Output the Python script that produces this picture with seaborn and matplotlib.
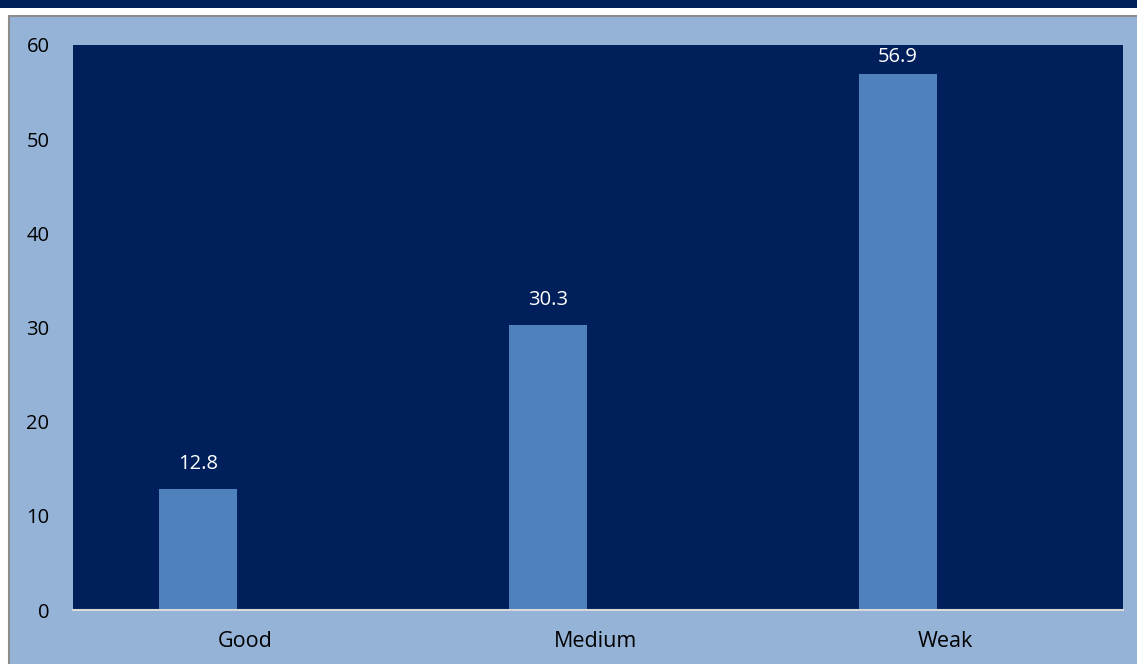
import matplotlib
matplotlib.use("Agg")
import matplotlib.pyplot as plt
import seaborn as sns
import pandas as pd
from matplotlib.patches import Rectangle

categories = ["Good", "Medium", "Weak"]
values = [12.8, 30.3, 56.9]
y_ticks = [0, 10, 20, 30, 40, 50, 60]

panel_bg = "#95B3D7"
plot_bg = "#001F5B"
bar_color = "#4F81BD"

sns.set_theme(style="white")
plt.rcParams["font.family"] = ["Open Sans", "DejaVu Sans"]

W, H = 1137, 664
fig = plt.figure(figsize=(W / 100, H / 100), dpi=100)
fig.patch.set_facecolor("white")

# header band and framed panel
fig.add_artist(Rectangle((0, 1 - 8 / H), 1, 8 / H, transform=fig.transFigure,
                         facecolor=plot_bg, edgecolor="none", zorder=0))
fig.add_artist(Rectangle((9 / W, 0), 1 - 9 / W, 1 - 16 / H, transform=fig.transFigure,
                         facecolor=panel_bg, edgecolor="none", zorder=0))
fig.add_artist(plt.Line2D([8.5 / W, 8.5 / W], [0, 1 - 15.5 / H], transform=fig.transFigure,
                          color="#8C8C8C", lw=1.5, zorder=1))
fig.add_artist(plt.Line2D([8.5 / W, 1], [1 - 15.5 / H, 1 - 15.5 / H], transform=fig.transFigure,
                          color="#8C8C8C", lw=1.5, zorder=1))

left, right, top, bottom = 73, 1123, 45, 610
ax = fig.add_axes([left / W, 1 - bottom / H, (right - left) / W, (bottom - top) / H])
ax.set_facecolor(plot_bg)

df = pd.DataFrame({"category": categories, "value": values})
sns.barplot(data=df, x="category", y="value", color=bar_color, saturation=1,
            width=0.223, ax=ax, edgecolor="none")

ymax = 60
ax.set_ylim(0, ymax)
# bars sit left of each category slot; labels stay at the slot centre
ax.set_xlim(-0.357, len(categories) - 0.357)
ax.set_xticks([i + 0.135 for i in range(len(categories))])
ax.set_xticklabels(categories, fontsize=15.5, color="black")
ax.set_yticks(y_ticks)
ax.set_yticklabels([str(t) for t in y_ticks], fontsize=14.5, color="black")
ax.tick_params(axis="x", length=0, pad=15)
ax.tick_params(axis="y", length=0, pad=17)
ax.set_xlabel("")
ax.set_ylabel("")

for side in ["top", "right", "left"]:
    ax.spines[side].set_visible(False)
ax.spines["bottom"].set_color("#D9D9D9")
ax.spines["bottom"].set_linewidth(1.5)

# value labels above bars, kept inside the plot area near the top
px_per_unit = (bottom - top) / ymax
for patch, v in zip(ax.patches, values):
    cx = patch.get_x() + patch.get_width() / 2
    h = patch.get_height()
    offset_px = min(25, (ymax - h) * px_per_unit - 12)
    ax.annotate(f"{v:.1f}", xy=(cx, h), xytext=(0, offset_px * 0.72),
                textcoords="offset points", ha="center", va="center",
                color="white", fontsize=14.5)

fig.savefig("out.png", dpi=100, facecolor=fig.get_facecolor())
